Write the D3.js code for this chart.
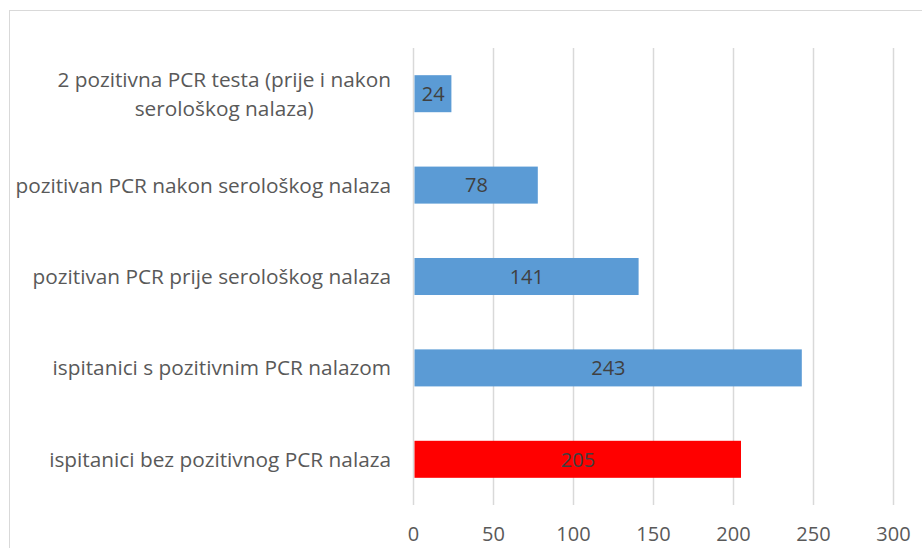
<!DOCTYPE html>
<html>
<head>
<meta charset="utf-8">
<script src="https://cdn.jsdelivr.net/npm/d3@7"></script>
<style>
  body { margin: 0; background: #fff; }
  text { font-family: "Open Sans", "DejaVu Sans", sans-serif; }
</style>
</head>
<body>
<div id="chart"></div>
<script>
// data (top to bottom)
var categories = [
    ["2 pozitivna PCR testa (prije i nakon", "serološkog nalaza)"],
    ["pozitivan PCR nakon serološkog nalaza"],
    ["pozitivan PCR prije serološkog nalaza"],
    ["ispitanici s pozitivnim PCR nalazom"],
    ["ispitanici bez pozitivnog PCR nalaza"]
];
var values = [24, 78, 141, 243, 205];
var barColors = ["#5B9BD5", "#5B9BD5", "#5B9BD5", "#5B9BD5", "#FF0000"];
var tickValues = [0, 50, 100, 150, 200, 250, 300];

var W = 922, H = 548;
var margin = { top: 48, right: 29, bottom: 43, left: 413 };
var width = W - margin.left - margin.right,
    height = H - margin.top - margin.bottom;

var svg = d3.select("#chart")
    .append("svg")
    .attr("width", W)
    .attr("height", H);

// chart border
svg.append("rect")
    .attr("x", 9.5).attr("y", 10.5)
    .attr("width", W).attr("height", H)
    .attr("fill", "none")
    .attr("stroke", "#d9d9d9")
    .attr("stroke-width", 1);

var g = svg.append("g")
    .attr("transform", "translate(" + margin.left + "," + margin.top + ")");

var x = d3.scaleLinear()
    .domain([0, 300])
    .range([0, 480]);

var idx = d3.range(values.length);
var y = d3.scaleBand()
    .domain(idx)
    .range([0, height])
    .paddingInner(0.595)
    .paddingOuter(0.2975);

// gridlines
g.append("g")
    .selectAll("line")
    .data(tickValues)
    .enter()
    .append("line")
    .attr("x1", function (d) { return x(d) + 0.5; })
    .attr("x2", function (d) { return x(d) + 0.5; })
    .attr("y1", 0)
    .attr("y2", height)
    .attr("stroke", "#d9d9d9")
    .attr("stroke-width", 1.5);

// x axis tick labels
var xAxis = g.append("g")
    .attr("transform", "translate(0," + height + ")")
    .call(d3.axisBottom(x).tickValues(tickValues).tickSize(0).tickPadding(22));
xAxis.select(".domain").remove();
xAxis.selectAll("text")
    .style("font-family", "'Open Sans', sans-serif")
    .style("font-size", "20px")
    .attr("fill", "#595959");

// bars
g.selectAll("rect.bar")
    .data(idx)
    .enter()
    .append("rect")
    .attr("class", "bar")
    .attr("x", x(0) + 1.5)
    .attr("y", function (i) { return y(i); })
    .attr("width", function (i) { return x(values[i]) - x(0) - 1.5; })
    .attr("height", y.bandwidth())
    .attr("fill", function (i) { return barColors[i]; });

// value labels
g.selectAll("text.val")
    .data(idx)
    .enter()
    .append("text")
    .attr("class", "val")
    .attr("x", function (i) { return (x(0) + x(values[i])) / 2 + 1; })
    .attr("y", function (i) { return y(i) + y.bandwidth() / 2; })
    .attr("dy", "0.36em")
    .attr("text-anchor", "middle")
    .style("font-size", "20px")
    .attr("fill", "#404040")
    .text(function (i) { return values[i]; });

// category labels
var labelRight = -22;
idx.forEach(function (i) {
    var lines = categories[i];
    var cy = margin.top + y(i) + y.bandwidth() / 2;
    var t = svg.append("text")
        .style("font-size", "20.8px")
        .attr("fill", "#595959");
    if (lines.length === 1) {
        t.attr("x", margin.left + labelRight)
            .attr("y", cy)
            .attr("dy", "0.36em")
            .attr("text-anchor", "end")
            .text(lines[0]);
    } else {
        var lh = 29;
        var t0 = lines.map(function (s, k) {
            return t.append("tspan")
                .attr("y", cy + (k - (lines.length - 1) / 2) * lh)
                .attr("dy", "0.36em")
                .text(s);
        });
        var w0 = t0[0].node().getComputedTextLength();
        var cx = margin.left + labelRight - w0 / 2;
        t.attr("text-anchor", "middle");
        t0.forEach(function (ts) { ts.attr("x", cx); });
    }
});
</script>
</body>
</html>
